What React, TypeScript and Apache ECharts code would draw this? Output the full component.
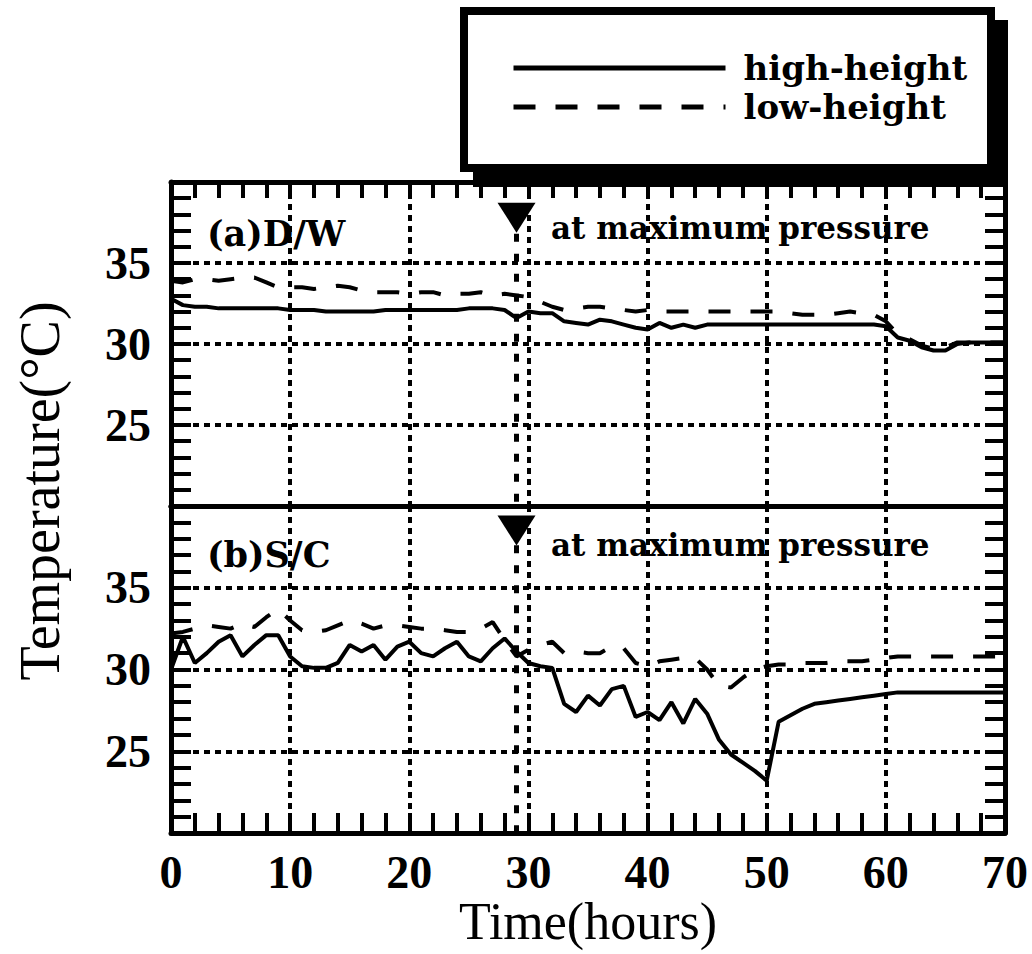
import React, { useEffect, useRef } from "react";
import * as echarts from "echarts";

// time axis (hours) shared by all series
const hours = Array.from({ length: 71 }, (_, i) => i);

// (a) D/W
const dwHigh = [
  32.8, 32.4, 32.3, 32.3, 32.2, 32.2, 32.2, 32.2, 32.2, 32.2,
  32.1, 32.1, 32.1, 32.0, 32.0, 32.0, 32.0, 32.0, 32.1, 32.1,
  32.1, 32.1, 32.1, 32.1, 32.1, 32.2, 32.2, 32.2, 32.1, 31.6,
  32.0, 31.9, 31.9, 31.4, 31.3, 31.2, 31.5, 31.4, 31.2, 31.0,
  30.9, 31.3, 31.0, 31.2, 31.0, 31.2, 31.2, 31.2, 31.2, 31.2,
  31.2, 31.2, 31.2, 31.2, 31.2, 31.2, 31.2, 31.2, 31.2, 31.2,
  31.1, 30.4, 30.2, 29.8, 29.6, 29.6, 30.0, 30.1, 30.1, 30.1, 30.1,
];
const dwLow = [
  33.9, 33.8, 34.0, 34.0, 33.9, 34.0, 34.1, 34.1, 33.8, 33.5,
  33.5, 33.5, 33.4, 33.5, 33.6, 33.5, 33.3, 33.2, 33.2, 33.2,
  33.1, 33.2, 33.2, 33.0, 33.1, 33.1, 33.2, 33.0, 33.1, 33.0,
  32.9, 32.6, 32.3, 32.1, 32.2, 32.3, 32.3, 32.2, 32.1, 32.0,
  32.1, 32.0, 32.0, 32.0, 32.0, 32.0, 32.0, 32.0, 32.0, 32.0,
  32.0, 32.0, 31.9, 31.8, 31.8, 31.8, 31.9, 32.0, 31.9, 31.8,
  31.4, 30.6, 30.3, 29.9, 29.7, 29.8, 30.1, 30.1, 30.1, 30.1, 30.1,
];

// (b) S/C
const scHigh = [
  30.0, 32.0, 30.4, 31.0, 31.7, 32.1, 30.8, 31.5, 32.1, 32.1,
  30.8, 30.2, 30.1, 30.1, 30.4, 31.5, 31.1, 31.5, 30.6, 31.4,
  31.7, 31.0, 30.8, 31.3, 31.7, 30.8, 30.5, 31.3, 31.9, 31.1,
  30.4, 30.2, 30.1, 27.9, 27.4, 28.4, 27.8, 28.8, 29.0, 27.1,
  27.4, 26.9, 28.0, 26.7, 28.2, 27.3, 25.7, 24.8, 24.3, 23.8,
  23.2, 26.8, 27.2, 27.6, 27.9, 28.0, 28.1, 28.2, 28.3, 28.4,
  28.5, 28.6, 28.6, 28.6, 28.6, 28.6, 28.6, 28.6, 28.6, 28.6, 28.6,
];
const scLow = [
  32.2, 32.3, 32.5, 32.7, 32.6, 32.5, 32.8, 32.6, 33.2, 33.7,
  33.0, 32.4, 32.3, 32.4, 32.7, 33.0, 32.8, 32.5, 32.7, 32.7,
  32.6, 32.5, 32.5, 32.4, 32.3, 32.3, 32.5, 32.9, 31.8, 30.8,
  31.2, 31.5, 31.7, 31.0, 31.1, 31.0, 31.0, 31.4, 31.3, 30.4,
  30.2, 30.5, 30.6, 30.7, 30.7, 30.0, 29.0, 28.9, 29.5, 30.0,
  30.2, 30.3, 30.3, 30.4, 30.4, 30.4, 30.5, 30.5, 30.5, 30.6,
  30.7, 30.8, 30.8, 30.8, 30.8, 30.8, 30.8, 30.8, 30.8, 30.8, 30.8,
];

const seriesNames = ["high-height", "low-height"];
const panelLabels = ["(a)D/W", "(b)S/C"];
const markerText = "at maximum pressure";
const markerHour = 29;
const markerTriangleTemp = [37.8, 38.5];
const markerLineTop = [36.8, 37.6];
const yAxisTitle = "Temperature(\u00B0C)";
const xAxisTitle = "Time(hours)";

const SERIF = '"Liberation Serif", "Times New Roman", serif';
const WIDE = '"DejaVu Serif", serif';

export default function App() {
  const ref = useRef<HTMLDivElement>(null);

  useEffect(() => {
    const chart = echarts.init(ref.current as HTMLDivElement, null, { renderer: "svg" });
    const pair = (vals: number[]) => hours.map((h, i) => [h, vals[i]]);
    const dotted = { color: "#000", width: 4, type: [6, 5] as any };
    const axisLine = { show: true, onZero: false, lineStyle: { color: "#000", width: 5 } };
    const tickStyle = { color: "#000", width: 4 };

    const xAxis = (gridIndex: number, position: string, opts: any) => ({
      type: "value",
      gridIndex,
      position,
      min: 0,
      max: 70,
      interval: 10,
      axisLine,
      axisTick: { show: false },
      minorTick: { show: false },
      axisLabel: { show: false },
      splitLine: { show: false },
      ...opts,
    });
    const yAxis = (gridIndex: number, position: string, opts: any) => ({
      type: "value",
      gridIndex,
      position,
      min: 20,
      max: 40,
      interval: 5,
      axisLine,
      axisTick: { show: true, inside: true, length: 20, lineStyle: tickStyle },
      minorTick: { show: true, splitNumber: 5, length: 20, lineStyle: tickStyle },
      axisLabel: { show: false },
      splitLine: { show: false },
      ...opts,
    });

    const lineSeries = (name: string, panel: number, vals: number[], dashed: boolean, extra: any = {}) => ({
      type: "line",
      name,
      xAxisIndex: panel === 0 ? 0 : 2,
      yAxisIndex: panel === 0 ? 0 : 2,
      data: pair(vals),
      symbol: "none",
      showSymbol: false,
      lineStyle: { color: "#000", width: 4, type: dashed ? ([22, 20] as any) : "solid" },
      itemStyle: { color: "#000" },
      z: 5,
      ...extra,
    });

    const marker = (panel: number) => ({
      markLine: {
        silent: true,
        symbol: ["none", "none"],
        label: { show: false },
        lineStyle: { color: "#000", width: 5, type: [8, 12] as any },
        data: [[{ coord: [markerHour, markerLineTop[panel]] }, { coord: [markerHour, 20] }]],
      },
      markPoint: {
        silent: true,
        symbol: "triangle",
        symbolRotate: 180,
        symbolSize: [38, 30],
        itemStyle: { color: "#000" },
        label: { show: false },
        data: [{ coord: [markerHour, markerTriangleTemp[panel]] }],
      },
    });

    const tickLabelStyle = {
      fontFamily: SERIF,
      fontWeight: "bold",
      fontSize: 46,
      color: "#000",
    };

    const option: any = {
      animation: false,
      backgroundColor: "#fff",
      grid: [
        { left: 171, top: 182, width: 834, height: 324 },
        { left: 171, top: 506, width: 834, height: 327 },
      ],
      xAxis: [
        xAxis(0, "bottom", { splitLine: { show: true, lineStyle: dotted } }),
        xAxis(0, "top", {
          axisTick: { show: true, inside: true, length: 16, lineStyle: tickStyle },
          minorTick: { show: true, splitNumber: 5, length: 16, lineStyle: tickStyle },
        }),
        xAxis(1, "bottom", {
          splitLine: { show: true, lineStyle: dotted },
          axisTick: { show: true, inside: true, length: 20, lineStyle: tickStyle },
          minorTick: { show: true, splitNumber: 5, length: 20, lineStyle: tickStyle },
          axisLabel: { show: true, margin: 16, ...tickLabelStyle },
          name: xAxisTitle,
          nameLocation: "middle",
          nameGap: 52,
          nameTextStyle: { fontFamily: SERIF, fontSize: 52, color: "#000" },
        }),
        xAxis(1, "top", {}),
      ],
      yAxis: [
        yAxis(0, "left", {
          axisLabel: { show: true, margin: 20, showMinLabel: false, showMaxLabel: false, ...tickLabelStyle },
          splitLine: { show: true, lineStyle: dotted },
        }),
        yAxis(0, "right", {}),
        yAxis(1, "left", {
          axisLabel: { show: true, margin: 20, showMinLabel: false, showMaxLabel: false, ...tickLabelStyle },
          splitLine: { show: true, lineStyle: dotted },
        }),
        yAxis(1, "right", {}),
      ],
      legend: {
        orient: "vertical",
        left: 506,
        top: 46,
        itemWidth: 212,
        itemHeight: 14,
        itemGap: 5,
        z: 20,
        data: seriesNames,
        itemStyle: { opacity: 0 },
        lineStyle: { width: 5, color: "#000" },
        textStyle: {
          fontFamily: WIDE,
          fontWeight: "bold",
          fontSize: 34,
          color: "#000",
          padding: [0, 0, 0, 13],
        },
      },
      graphic: [
        { type: "rect", z: 10, shape: { x: 473, y: 20, width: 535, height: 167 }, style: { fill: "#000" } },
        {
          type: "rect",
          z: 11,
          shape: { x: 464, y: 11, width: 527, height: 157 },
          style: { fill: "#fff", stroke: "#000", lineWidth: 8 },
        },
        {
          type: "text",
          x: 40,
          y: 491,
          rotation: Math.PI / 2,
          style: {
            text: yAxisTitle,
            fill: "#000",
            fontFamily: SERIF,
            fontSize: 56,
            align: "center",
            verticalAlign: "middle",
          },
        },
        {
          type: "text",
          x: 207,
          y: 233,
          z: 20,
          style: { text: panelLabels[0], fill: "#000", fontFamily: WIDE, fontWeight: "bold", fontSize: 35, verticalAlign: "middle" },
        },
        {
          type: "text",
          x: 207,
          y: 554,
          z: 20,
          style: { text: panelLabels[1], fill: "#000", fontFamily: WIDE, fontWeight: "bold", fontSize: 35, verticalAlign: "middle" },
        },
        {
          type: "text",
          x: 551,
          y: 228,
          z: 20,
          style: { text: markerText, fill: "#000", fontFamily: WIDE, fontWeight: "bold", fontSize: 31, verticalAlign: "middle" },
        },
        {
          type: "text",
          x: 551,
          y: 545,
          z: 20,
          style: { text: markerText, fill: "#000", fontFamily: WIDE, fontWeight: "bold", fontSize: 31, verticalAlign: "middle" },
        },
      ],
      series: [
        lineSeries(seriesNames[0], 0, dwHigh, false, marker(0)),
        lineSeries(seriesNames[1], 0, dwLow, true),
        lineSeries(seriesNames[0], 1, scHigh, false, marker(1)),
        lineSeries(seriesNames[1], 1, scLow, true),
      ],
    };

    chart.setOption(option);
    return () => chart.dispose();
  }, []);

  return (
    <div
      ref={ref}
      style={{ position: "absolute", left: 0, top: 0, width: 1032, height: 954, background: "#fff" }}
    />
  );
}
